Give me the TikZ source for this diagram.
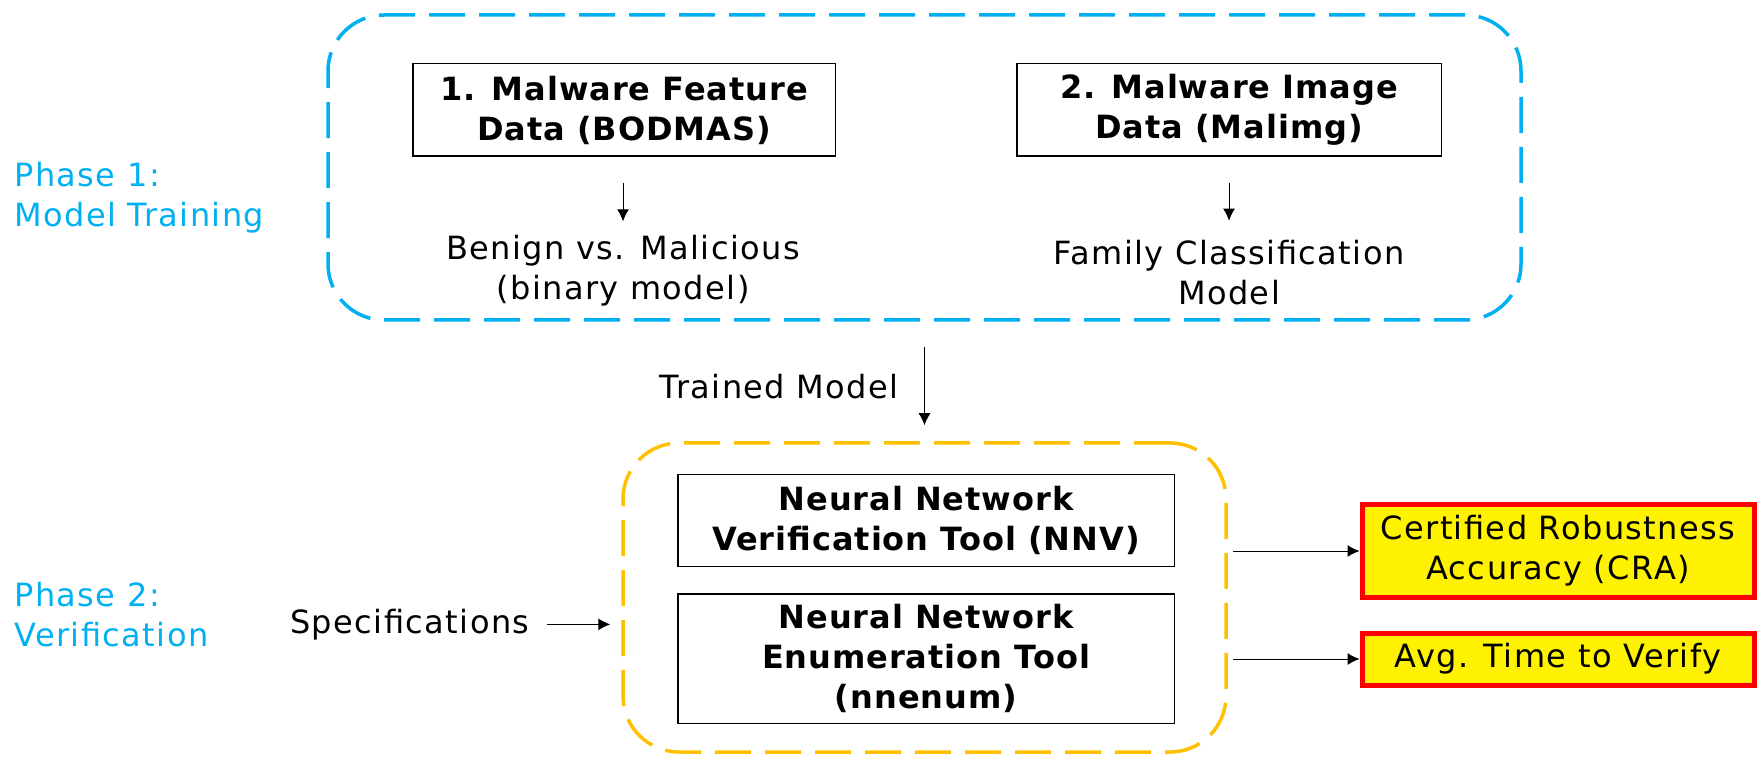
\documentclass[tikz,border=0pt]{standalone}
\usepackage{fontspec}
\setmainfont{DejaVu Sans}[LetterSpace=4.5, BoldFeatures={LetterSpace=3}]
\usetikzlibrary{arrows.meta}
\definecolor{phaseblue}{RGB}{0,176,240}
\definecolor{groupyellow}{RGB}{255,192,0}

\begin{document}
\begin{tikzpicture}
    [ x = 1pt, y = -1pt
    , font = \fontsize{16}{20}\selectfont
    , phase/.style =
      { anchor = west, align = left, text = phaseblue, inner sep = 0pt }
    , label/.style =
      { align = center, inner sep = 0pt }
    , group/.style =
      { rounded corners = 28pt, line width = 1.75pt, dash pattern = on 18pt off 7pt }
    , toolbox/.style =
      { draw, line width = .75pt, align = center, inner sep = 0pt
      , font = \fontsize{16}{20}\selectfont\bfseries }
    , result/.style =
      { draw = red, fill = yellow, line width = 2.5pt, align = center
      , minimum width = 196pt, inner sep = 0pt }
    , edge/.style =
      { -{Latex[length=6pt, width=6pt]}, line width = .5pt }
    ]
    \useasboundingbox (0,0) rectangle (880,379);

    \node [group, draw = phaseblue, minimum width = 596.5pt, minimum height = 152.5pt] (training) at (462.25,83.75) {};
    \node [group, draw = groupyellow, minimum width = 301.5pt, minimum height = 154.5pt] (verif) at (462.25,298.75) {};

    \node [phase] (phase1) at (7,98.9) {Phase 1:\\Model Training};
    \node [phase] (phase2) at (7,307.3) {Phase 2:\\Verification};

    \node [toolbox, minimum width = 211.25pt, minimum height = 46.25pt] (bodmas) at (312,55) {1. Malware Feature\\Data (BODMAS)};
    \node [toolbox, minimum width = 212.25pt, minimum height = 46.25pt] (malimg) at (614.5,55) {2. Malware Image\\Data (Malimg)};
    \node [label] (binary) at (311.5,135.2) {Benign vs. Malicious\\(binary model)};
    \node [label] (family) at (614.5,136.3) {Family Classification\\Model};

    \node [label, anchor = east] (trained) at (449.5,193.5) {Trained Model};
    \node [label, anchor = east] (spec) at (265,312.2) {Specifications};

    \node [toolbox, minimum width = 248.25pt, minimum height = 45.75pt] (nnv) at (463,260.25) {Neural Network\\Verification Tool (NNV)};
    \node [toolbox, minimum width = 248.25pt, minimum height = 64.75pt] (nnenum) at (463,329.25) {Neural Network\\Enumeration Tool\\(nnenum)};

    \node [result, minimum height = 46.5pt] (cra) at (779,275.5) {Certified Robustness\\Accuracy (CRA)};
    \node [result, minimum height = 26pt] (avgtime) at (779,329.5) {Avg. Time to Verify};

    \draw [edge, shorten <= 13pt, shorten >= 6.6pt] (bodmas.south -| binary.north) -- (binary.north);
    \draw [edge, shorten <= 13pt, shorten >= 9.6pt] (malimg.south) -- (family.north);
    \draw [edge, shorten <= 12.5pt, shorten >= 8pt] (training.south) -- (verif.north);
    \draw [edge, shorten <= 8.5pt, shorten >= 5.5pt] (spec.east) -- (spec.east -| verif.west);
    \draw [edge, shorten <= 2.5pt] (cra.west -| verif.east) -- (cra.west);
    \draw [edge, shorten <= 2.5pt] (avgtime.west -| verif.east) -- (avgtime.west);
\end{tikzpicture}
\end{document}
